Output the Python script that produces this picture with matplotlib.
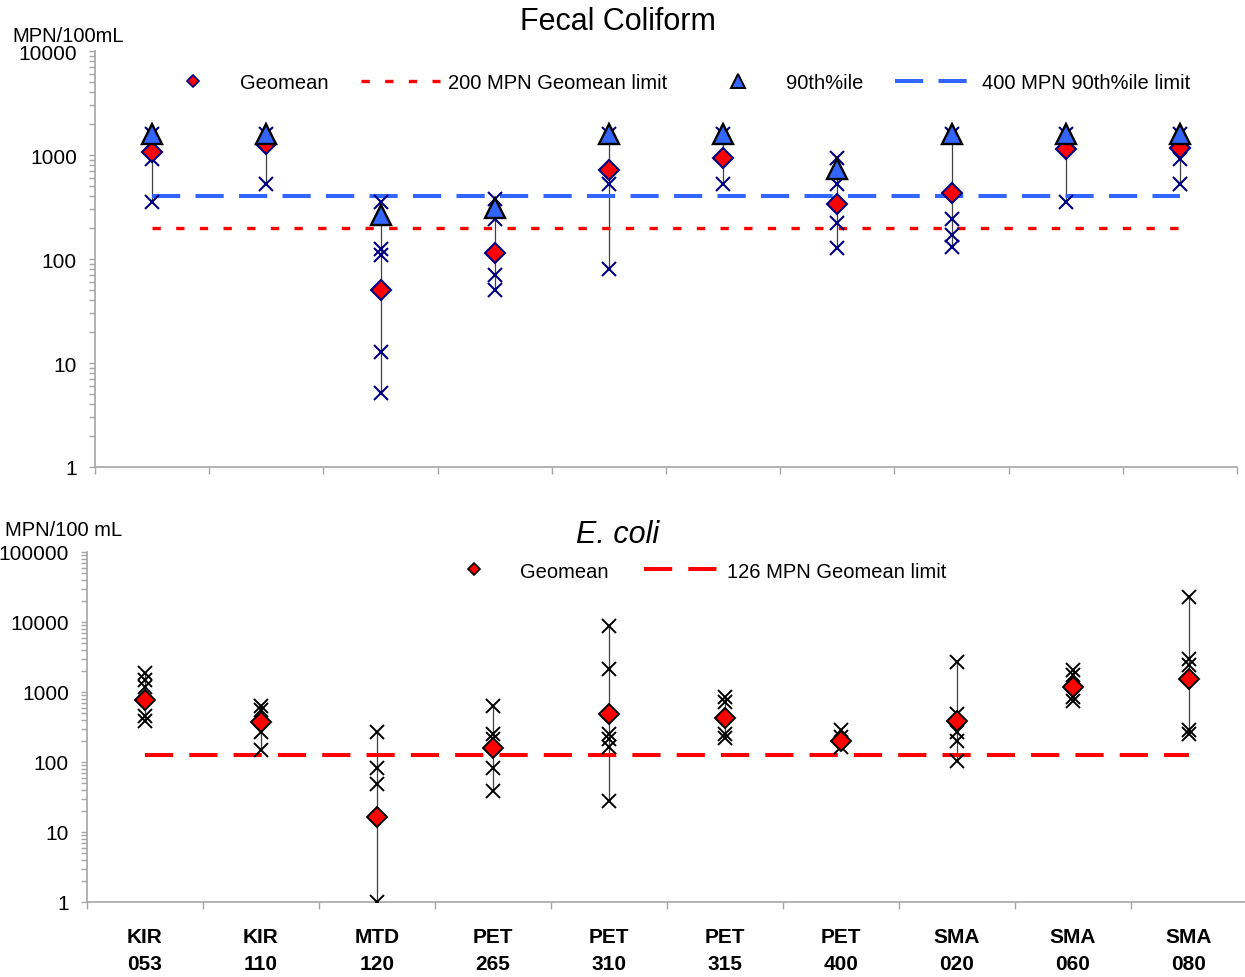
import matplotlib
matplotlib.use("Agg")
import matplotlib.pyplot as plt
from matplotlib.lines import Line2D
from matplotlib.ticker import LogLocator, NullFormatter, FixedLocator, FixedFormatter

plt.rcParams['font.family'] = ['Liberation Sans', 'DejaVu Sans']

# ---------------- data ----------------
sites = ["KIR\n053", "KIR\n110", "MTD\n120", "PET\n265", "PET\n310",
         "PET\n315", "PET\n400", "SMA\n020", "SMA\n060", "SMA\n080"]

fc_geomean = [1070, 1285, 50, 114, 723, 936, 340, 431, 1150, 1160]
fc_p90 = [1600, 1600, 265, 310, 1600, 1600, 738, 1600, 1600, 1600]
fc_samples = [
    [1600, 920, 350],
    [1600, 530],
    [353, 126, 109, 12.8, 5.1],
    [380, 244, 70, 50],
    [1600, 530, 80],
    [1600, 530],
    [942, 530, 222, 128],
    [1600, 244, 169, 130],
    [1600, 353],
    [1600, 909, 530],
]
fc_geomean_limit = 200
fc_p90_limit = 400

ec_geomean = [776, 369, 16.6, 157, 485, 421, 201, 389, 1191, 1534]
ec_samples = [
    [1870, 1485, 1180, 458, 389],
    [637, 559, 265, 148],
    [265, 81, 48.5, 1],
    [624, 251, 213, 81, 39],
    [8850, 2130, 251, 213, 164, 28],
    [840, 728, 251, 218],
    [287, 230, 164],
    [2657, 485, 265, 201, 102],
    [2084, 1750, 840, 736],
    [22550, 2960, 2455, 290, 251],
]
ec_geomean_limit = 126

# ---------------- styling ----------------
W, H = 1245, 978
fig = plt.figure(figsize=(W / 100, H / 100), dpi=100)

RED = '#FF0000'
BLUE = '#3366FF'
NAVY = '#000080'
GRAY = '#A6A6A6'
FS = 14.5

def fx(px):
    return px / W

def fy(py):
    return 1 - py / H

ax1 = fig.add_axes([fx(95), fy(468), fx(1237 - 95), (468 - 52) / H])
ax2 = fig.add_axes([fx(87), fy(903), fx(1247 - 87), (903 - 553) / H])

n = len(sites)
xs = [i + 0.5 for i in range(n)]

def style_axis(ax, ymin, ymax, show_labels):
    ax.set_yscale('log')
    ax.set_ylim(ymin, ymax)
    ax.set_xlim(0, n)
    for s in ['top', 'right']:
        ax.spines[s].set_visible(False)
    for s in ['left', 'bottom']:
        ax.spines[s].set_color(GRAY)
        ax.spines[s].set_linewidth(1.2)
    ax.yaxis.set_major_locator(LogLocator(base=10, numticks=20))
    ax.yaxis.set_minor_locator(LogLocator(base=10, subs=range(2, 10), numticks=20))
    ax.yaxis.set_minor_formatter(NullFormatter())
    ax.yaxis.set_major_formatter(matplotlib.ticker.FuncFormatter(lambda v, p: f"{v:g}" if v >= 1 else ""))
    ax.tick_params(axis='y', which='both', direction='out', color=GRAY, length=4,
                   width=1, labelsize=15, pad=9)
    ax.xaxis.set_major_locator(FixedLocator(list(range(n + 1))))
    ax.xaxis.set_major_formatter(NullFormatter())
    ax.tick_params(axis='x', which='major', direction='out', color=GRAY, length=5, width=1)
    if show_labels:
        ax.xaxis.set_minor_locator(FixedLocator(xs))
        ax.xaxis.set_minor_formatter(FixedFormatter(sites))
        ax.tick_params(axis='x', which='minor', length=0, pad=18, labelsize=15)
        for t in ax.xaxis.get_minorticklabels():
            t.set_fontweight('bold')
            t.set_linespacing(1.55)
    else:
        ax.xaxis.set_minor_locator(FixedLocator([]))

style_axis(ax1, 1, 10000, False)
style_axis(ax2, 1, 100000, True)
for ax in (ax1, ax2):
    ax.patch.set_alpha(0)

# ---------------- top panel ----------------
for x, s in zip(xs, fc_samples):
    ax1.vlines(x, min(s), max(s), color='#404040', lw=0.9, zorder=2)
ax1.plot([xs[0], xs[-1]], [fc_p90_limit] * 2, color=BLUE, lw=2.9,
         linestyle=(0, (7.0, 3.8)), zorder=3)
ax1.plot([xs[0], xs[-1]], [fc_geomean_limit] * 2, color=RED, lw=2.4,
         linestyle=(0, (2.5, 4.6)), zorder=3)
for x, s in zip(xs, fc_samples):
    ax1.plot([x] * len(s), s, linestyle='none', marker='x', ms=9.5,
             mew=1.5, color=NAVY, zorder=4)
ax1.plot(xs, fc_geomean, linestyle='none', marker='D', ms=10.0, mfc=RED,
         mec=NAVY, mew=1.5, zorder=5)
ax1.plot(xs, fc_p90, linestyle='none', marker='^', ms=15, mfc=BLUE,
         mec='black', mew=1.7, zorder=6)

h1 = [
    Line2D([], [], linestyle='none', marker='D', ms=6.6, mfc=RED, mec=NAVY, mew=1.2),
    Line2D([], [], color=RED, lw=2.4, linestyle=(0, (2.5, 4.6))),
    Line2D([], [], linestyle='none', marker='^', ms=10, mfc=BLUE, mec='black', mew=1.4),
    Line2D([], [], color=BLUE, lw=2.9, linestyle=(0, (7.0, 3.8))),
]
l1 = ["Geomean", "200 MPN Geomean limit", "90th%ile", "400 MPN 90th%ile limit"]
fig.legend(h1, l1, loc='center', bbox_to_anchor=(fx(672), fy(84)), ncol=4,
           frameon=False, fontsize=FS, handlelength=3.9, handletextpad=0.4,
           columnspacing=1.6, borderpad=0, borderaxespad=0)

# ---------------- bottom panel ----------------
for x, s in zip(xs, ec_samples):
    ax2.vlines(x, min(s), max(s), color='#404040', lw=0.9, zorder=2)
ax2.plot([xs[0], xs[-1]], [ec_geomean_limit] * 2, color=RED, lw=2.9,
         linestyle=(0, (7.0, 4.0)), zorder=3)
for x, s in zip(xs, ec_samples):
    ax2.plot([x] * len(s), s, linestyle='none', marker='x', ms=9.5,
             mew=1.4, color='black', zorder=4)
ax2.plot(xs, ec_geomean, linestyle='none', marker='D', ms=10.2, mfc=RED,
         mec='black', mew=1.4, zorder=5)

h2 = [
    Line2D([], [], linestyle='none', marker='D', ms=6.3, mfc=RED, mec='black', mew=1.2),
    Line2D([], [], color=RED, lw=2.9, linestyle=(0, (7.0, 4.0))),
]
l2 = ["Geomean", "126 MPN Geomean limit"]
fig.legend(h2, l2, loc='center', bbox_to_anchor=(fx(692), fy(572)), ncol=2,
           frameon=False, fontsize=FS, handlelength=3.6, handletextpad=0.5,
           columnspacing=1.75, borderpad=0, borderaxespad=0)

# ---------------- titles / units ----------------
fig.text(fx(618), fy(22), "Fecal Coliform", ha='center', va='center', fontsize=22)
fig.text(fx(618), fy(535), "E. coli", ha='center', va='center', fontsize=22,
         style='italic')
fig.text(fx(12), fy(36), "MPN/100mL", ha='left', va='center', fontsize=FS)
fig.text(fx(5), fy(531), "MPN/100 mL", ha='left', va='center', fontsize=FS)

fig.savefig("out.png", dpi=100)
